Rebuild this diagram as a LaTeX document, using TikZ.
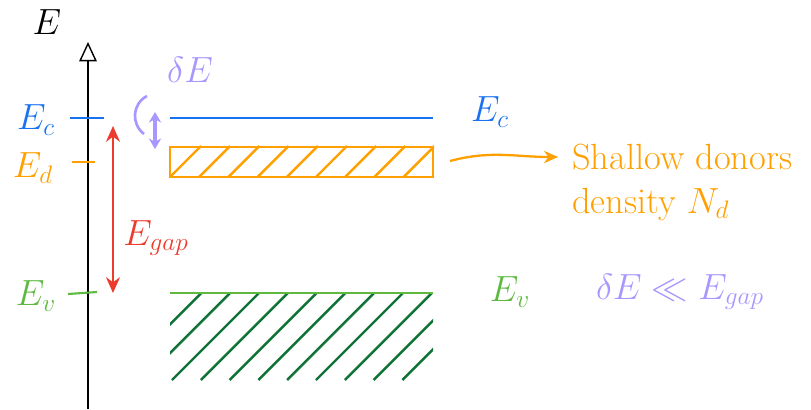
\documentclass[tikz,border=0pt]{standalone}
\usepackage{amsmath}
\usepackage{amssymb}
\usetikzlibrary{arrows.meta}
\definecolor{cband}{RGB}{25,115,240}
\definecolor{dband}{RGB}{255,160,0}
\definecolor{vband}{RGB}{95,185,65}
\definecolor{vhatch}{RGB}{15,115,55}
\definecolor{gapred}{RGB}{235,60,45}
\definecolor{lav}{RGB}{170,150,255}
\tikzset{
  lbl/.style={font=\huge,inner sep=1pt},
  axisline/.style={thick,-{Triangle[open,length=11pt,width=10pt]}},
  levtick/.style={line width=1.2pt},
  bandline/.style={line width=1.5pt},
  donorbox/.style={draw=dband,line width=1.3pt,minimum width=5.26cm,minimum height=0.6cm,inner sep=0pt},
  hatch/.style={line width=1.4pt},
  gaparrow/.style={gapred,line width=1.2pt,{Stealth[length=9pt,width=8pt]}-{Stealth[length=9pt,width=8pt]}},
  deltaarrow/.style={lav,line width=1.8pt,{Stealth[length=6pt,width=7pt]}-{Stealth[length=6pt,width=7pt]}},
  donorarrow/.style={dband,line width=1.3pt,-{Stealth[open,length=8pt,width=7pt]}}
}

\begin{document}
\begin{tikzpicture}[x=0.02cm,y=-0.02cm]
\useasboundingbox (0,0) rectangle (811,409);

% energy axis
\coordinate (axbot) at (88,409);
\coordinate (axtop) at (88,42);
\draw[axisline] (axbot) -- (axtop);
\node[lbl] (Elab) at (47,22) {$E$};

% levels on the axis
\coordinate (ctickL) at (70,118); \coordinate (ctickR) at (104,118);
\coordinate (dtickL) at (72,162); \coordinate (dtickR) at (95,162);
\coordinate (vtickL) at (68,294); \coordinate (vtickR) at (97,292);
\draw[levtick,cband] (ctickL) -- (ctickR);
\draw[levtick,dband] (dtickL) -- (dtickR);
\draw[levtick,vband] (vtickL) -- (vtickR);
\node[lbl,cband] (Eclab) at (36,120) {$E_c$};
\node[lbl,dband] (Edlab) at (33,168) {$E_d$};
\node[lbl,vband] (Evlab) at (36,296) {$E_v$};

% gap
\coordinate (gaptop) at (113,126);
\coordinate (gapbot) at (113,293);
\draw[gaparrow] (gaptop) -- (gapbot);
\node[lbl,gapred] (Egaplab) at (156,238) {$E_{gap}$};

% conduction band
\coordinate (cL) at (170,118);
\coordinate (cR) at (433,118);
\draw[bandline,cband] (cL) -- (cR);
\node[lbl,cband] (Ecright) at (490,112) {$E_c$};

% donor band
\node[donorbox] (donors) at (301.5,162) {};
\begin{scope}
\clip (donors.south west) rectangle (donors.north east);
\foreach \i in {0,...,8}
  \draw[hatch,dband] ({170+29.2*\i},177) -- ++(31,-31);
\end{scope}

% delta E
\coordinate (dtop) at (155,112);
\coordinate (dbot) at (155,149);
\draw[deltaarrow] (dtop) -- (dbot);
\coordinate (parA) at (147,96);
\coordinate (parB) at (144,134);
\draw[lav,line width=1.5pt] (parA) .. controls (132,104) and (131,124) .. (parB);
\node[lbl,lav] (dElab) at (190,70) {$\delta E$};

% valence band
\coordinate (vL) at (170,293);
\coordinate (vR) at (433,293);
\begin{scope}
\clip (170,293) rectangle (433,380);
\foreach \k in {-2,...,8}
  \draw[hatch,vhatch] ({172+28.8*\k},380) -- ++(100,-100);
\end{scope}
\draw[bandline,vband] (vL) -- (vR);
\node[lbl,vband] (Evright) at (510,292) {$E_v$};
\node[lbl,lav] (comparelab) at (680,292) {$\delta E \ll E_{gap}$};

% donors description
\coordinate (arrstart) at (450,161);
\coordinate (arrend) at (558,157);
\draw[donorarrow] (arrstart) to[out=15,in=180] (arrend);
\node[lbl,dband,anchor=west,align=left] (donortext) at (570,182)
{Shallow donors\\density $N_d$};
\end{tikzpicture}
\end{document}
